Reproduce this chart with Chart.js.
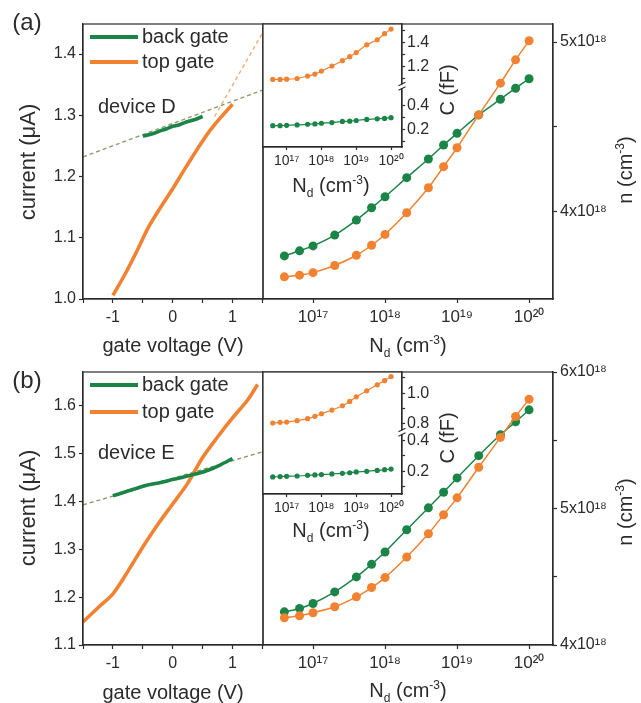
<!DOCTYPE html>
<html>
<head>
<meta charset="utf-8">
<script src="https://cdn.jsdelivr.net/npm/chart.js@4.4.1/dist/chart.umd.min.js"></script>
<style>
  body { margin: 0; background: #fff; }
  #fig { position: relative; width: 641px; height: 703px; background: #fff; overflow: hidden;
         font-family: "Liberation Sans", Arial, sans-serif; color: #2b2b2b; }
  #fig canvas { position: absolute; left: 0; }
  .lbl { position: absolute; white-space: nowrap; transform: translate(-50%, -50%); font-size: 20px; line-height: 1; z-index: 5; }
  .rot { transform: translate(-50%, -50%) rotate(-90deg); }
  .lbl sub, .lbl sup { font-size: 0.6em; line-height: 0; }
</style>
</head>
<body>
<div id="fig">
  <div class="lbl" style="left:27px;top:22px;font-size:24px">(a)</div>
  <div class="lbl" style="left:27px;top:380px;font-size:24px">(b)</div>

  <div class="lbl rot" style="left:28px;top:162px;font-size:22px">current (μA)</div>
  <div class="lbl rot" style="left:28px;top:508px;font-size:22px">current (μA)</div>
  <div class="lbl" style="left:173px;top:345px">gate voltage (V)</div>
  <div class="lbl" style="left:173px;top:692px">gate voltage (V)</div>

  <div class="lbl" style="left:408px;top:345px">N<sub>d</sub> (cm<sup>-3</sup>)</div>
  <div class="lbl" style="left:408px;top:690px">N<sub>d</sub> (cm<sup>-3</sup>)</div>
  <div class="lbl rot" style="left:625px;top:170px">n (cm<sup>-3</sup>)</div>
  <div class="lbl rot" style="left:625px;top:512px">n (cm<sup>-3</sup>)</div>

  <div class="lbl" style="left:331px;top:185px">N<sub>d</sub> (cm<sup>-3</sup>)</div>
  <div class="lbl" style="left:331px;top:530px">N<sub>d</sub> (cm<sup>-3</sup>)</div>
  <div class="lbl rot" style="left:447px;top:90px">C (fF)</div>
  <div class="lbl rot" style="left:447px;top:438px">C (fF)</div>
</div>
<script>
// ---- (a) device D : current vs gate voltage ----
const backVoltA = [-0.5, -0.4, -0.3, -0.2, -0.1, 0, 0.1, 0.2, 0.3, 0.4, 0.5];
const backCurrA = [1.266, 1.268, 1.271, 1.275, 1.278, 1.282, 1.284, 1.288, 1.291, 1.294, 1.298];
const topVoltA = [-1.0, -0.8, -0.6, -0.4, -0.2, 0, 0.2, 0.4, 0.6, 0.8, 1.0];
const topCurrA = [1.006, 1.040, 1.078, 1.118, 1.150, 1.180, 1.212, 1.243, 1.272, 1.296, 1.318];
const backFitVoltA = [-1.5, 1.5];
const backFitCurrA = [1.232, 1.341];
const topFitVoltA = [0.7, 1.5];
const topFitCurrA = [1.298, 1.434];

// ---- (b) device E ----
const backVoltB = [-1.0, -0.8, -0.6, -0.4, -0.2, 0, 0.2, 0.4, 0.6, 0.8, 1.0];
const backCurrB = [1.412, 1.420, 1.428, 1.435, 1.440, 1.446, 1.452, 1.458, 1.466, 1.477, 1.490];
const topVoltB = [-1.5, -1.25, -1.0, -0.75, -0.5, -0.25, 0, 0.25, 0.5, 0.75, 1.0, 1.25, 1.42];
const topCurrB = [1.148, 1.178, 1.207, 1.254, 1.305, 1.352, 1.395, 1.438, 1.492, 1.535, 1.575, 1.612, 1.645];
const backFitVoltB = [-1.5, 1.5];
const backFitCurrB = [1.393, 1.504];

// ---- n vs Nd (both devices use the same doping values) ----
const Nd = [4e16, 6.5e16, 1e17, 2e17, 4e17, 6.5e17, 1e18, 2e18, 4e18, 6.5e18, 1e19, 2e19, 4e19, 6.5e19, 1e20];
const nBackA = [3.735e18, 3.765e18, 3.794e18, 3.858e18, 3.947e18, 4.020e18, 4.085e18, 4.198e18, 4.308e18, 4.391e18, 4.460e18, 4.569e18, 4.662e18, 4.727e18, 4.783e18];
const nTopA = [3.611e18, 3.621e18, 3.636e18, 3.678e18, 3.739e18, 3.798e18, 3.862e18, 3.990e18, 4.138e18, 4.263e18, 4.375e18, 4.569e18, 4.757e18, 4.895e18, 5.008e18];
const nBackB = [4.243e18, 4.268e18, 4.304e18, 4.389e18, 4.499e18, 4.591e18, 4.681e18, 4.844e18, 5.005e18, 5.119e18, 5.224e18, 5.387e18, 5.540e18, 5.635e18, 5.723e18];
const nTopB = [4.200e18, 4.214e18, 4.236e18, 4.280e18, 4.353e18, 4.421e18, 4.494e18, 4.645e18, 4.815e18, 4.954e18, 5.078e18, 5.302e18, 5.521e18, 5.674e18, 5.800e18];

// ---- insets: C vs Nd ----
const cTopA = [1.092, 1.092, 1.094, 1.100, 1.120, 1.136, 1.161, 1.203, 1.247, 1.280, 1.314, 1.378, 1.420, 1.470, 1.508];
const cBackA = [0.234, 0.234, 0.237, 0.240, 0.246, 0.249, 0.254, 0.260, 0.269, 0.271, 0.277, 0.286, 0.291, 0.294, 0.300];
const cTopB = [0.806, 0.810, 0.812, 0.821, 0.834, 0.849, 0.866, 0.890, 0.918, 0.946, 0.976, 1.015, 1.054, 1.081, 1.107];
const cBackB = [0.164, 0.166, 0.168, 0.170, 0.174, 0.177, 0.179, 0.183, 0.187, 0.191, 0.196, 0.200, 0.206, 0.211, 0.215];

// ---- ticks ----
const voltTicks = [-1.5, -1, -0.5, 0, 0.5, 1, 1.5];
const voltLabels = ['', '-1', '', '0', '', '1', ''];
const currTicksA = [1.0, 1.1, 1.2, 1.3, 1.4];
const currLabelsA = ['1.0', '1.1', '1.2', '1.3', '1.4'];
const currTicksB = [1.1, 1.2, 1.3, 1.4, 1.5, 1.6];
const currLabelsB = ['1.1', '1.2', '1.3', '1.4', '1.5', '1.6'];
const ndTicks = [1e17, 1e18, 1e19, 1e20];
const ndLabels = ['10¹⁷', '10¹⁸', '10¹⁹', '10²⁰'];
const nTicksA = [4e18, 4.5e18, 5e18];
const nLabelsA = ['4x10¹⁸', '', '5x10¹⁸'];
const nTicksB = [4e18, 4.5e18, 5e18, 5.5e18, 6e18];
const nLabelsB = ['4x10¹⁸', '', '5x10¹⁸', '', '6x10¹⁸'];
const cHiTicksA = [1.1, 1.2, 1.3, 1.4, 1.5];
const cHiLabelsA = ['', '1.2', '', '1.4', ''];
const cLoTicksA = [0.1, 0.2, 0.3, 0.4];
const cLoLabelsA = ['', '0.2', '', '0.4'];
const cHiTicksB = [0.8, 0.9, 1.0, 1.1];
const cHiLabelsB = ['0.8', '', '1.0', ''];
const cLoTicksB = [0.1, 0.2, 0.3, 0.4];
const cLoLabelsB = ['', '0.2', '', '0.4'];

const FONT = '"Liberation Sans", Arial, sans-serif';
const INK = '#2b2b2b';
const GREEN = '#1b8548';
const ORANGE = '#f08232';
const GREEN_FIT = '#8d9c6c';
const ORANGE_FIT = '#f5ad76';

const pts = (xs, ys) => xs.map((x, i) => ({ x: x, y: ys[i] }));

function addCanvas(top, w, h) {
  const c = document.createElement('canvas');
  c.width = w;
  c.height = h;
  c.style.top = top + 'px';
  c.style.width = w + 'px';
  c.style.height = h + 'px';
  document.getElementById('fig').appendChild(c);
  return c;
}

// axis with fixed box size and hand picked ticks
function axis(o) {
  const s = {
    type: o.type || 'linear',
    position: o.position,
    min: o.min,
    max: o.max,
    afterBuildTicks: (sc) => { sc.ticks = o.ticks.map((v) => ({ value: v })); },
    afterFit: (sc) => { if (sc.isHorizontal()) sc.height = o.size; else sc.width = o.size; },
    border: { display: true, color: INK, width: 1.2 },
    grid: { drawOnChartArea: false, drawTicks: true, tickLength: o.tickLength || 4, tickColor: INK, tickWidth: 1.2 },
    ticks: {
      autoSkip: false, maxRotation: 0, minRotation: 0,
      padding: o.pad === undefined ? 3 : o.pad,
      color: INK,
      font: { family: FONT, size: o.fontSize || 16 },
      callback: (v, i) => o.labels[i],
    },
  };
  if (o.stack) {
    s.stack = o.stack;
    s.stackWeight = o.stackWeight;
  }
  return s;
}

// box around the plot area (optionally white filled for the insets)
const framePlugin = {
  id: 'frame',
  beforeDraw(chart, args, opts) {
    if (!opts.fill) return;
    const a = chart.chartArea;
    chart.ctx.save();
    chart.ctx.fillStyle = '#fff';
    chart.ctx.fillRect(a.left, a.top, a.width, a.height);
    chart.ctx.restore();
  },
  afterDraw(chart) {
    const a = chart.chartArea;
    const ctx = chart.ctx;
    ctx.save();
    ctx.strokeStyle = INK;
    ctx.lineWidth = 1.2;
    ctx.strokeRect(a.left, a.top, a.width, a.height);
    ctx.restore();
  },
};

// legend lines + device name inside the left panels
const panelTextPlugin = {
  id: 'panelText',
  afterDatasetsDraw(chart, args, opts) {
    if (!opts.device) return;
    const a = chart.chartArea;
    const ctx = chart.ctx;
    ctx.save();
    ctx.font = '20px ' + FONT;
    ctx.textBaseline = 'middle';
    const items = chart.data.datasets.filter((d) => d.inLegend);
    items.forEach((d, i) => {
      const y = a.top + opts.legendY[i];
      ctx.strokeStyle = d.borderColor;
      ctx.lineWidth = 4;
      ctx.beginPath();
      ctx.moveTo(a.left + 7, y);
      ctx.lineTo(a.left + 55, y);
      ctx.stroke();
      ctx.fillStyle = INK;
      ctx.fillText(d.label, a.left + 59, y);
    });
    ctx.fillStyle = INK;
    ctx.fillText(opts.device, a.left + 15, a.top + opts.deviceY);
    ctx.restore();
  },
};

// small break mark on the inset's right axis
const breakPlugin = {
  id: 'axisBreak',
  afterDraw(chart) {
    const hi = chart.scales.yHi;
    if (!hi) return;
    const x = chart.chartArea.right;
    const y = hi.bottom;
    const ctx = chart.ctx;
    ctx.save();
    ctx.fillStyle = '#fff';
    ctx.fillRect(x - 3, y - 2, 6, 4);
    ctx.strokeStyle = INK;
    ctx.lineWidth = 1.1;
    ctx.beginPath();
    ctx.moveTo(x - 3.5, y - 0.5); ctx.lineTo(x + 3.5, y - 4);
    ctx.moveTo(x - 3.5, y + 4); ctx.lineTo(x + 3.5, y + 0.5);
    ctx.stroke();
    ctx.restore();
  },
};

const baseOptions = {
  responsive: false,
  animation: false,
  devicePixelRatio: 1,
  events: [],
};

function sweep(label, data, color) {
  return { label: label, data: data, borderColor: color, borderWidth: 3.6, pointRadius: 0,
           tension: 0.3, fill: false, inLegend: true };
}
function fitLine(data, color) {
  return { label: 'fit', data: data, borderColor: color, borderWidth: 1.4, borderDash: [4, 3],
           pointRadius: 0, fill: false };
}
function marked(label, data, color, r, w) {
  return { label: label, data: data, borderColor: color, backgroundColor: color, borderWidth: w,
           pointRadius: r, pointBorderWidth: 0, pointBackgroundColor: color, fill: false, tension: 0.25 };
}

function gatePanel(top, h, padBottom, datasets, yMin, yMax, yTicks, yLabels, device, legendY, deviceY) {
  return new Chart(addCanvas(top, 270, h), {
    type: 'line',
    data: { datasets: datasets },
    options: Object.assign({}, baseOptions, {
      layout: { padding: { left: 0, top: 24, right: 7, bottom: padBottom } },
      scales: {
        x: axis({ position: 'bottom', min: -1.5, max: 1.51, ticks: voltTicks, labels: voltLabels, size: 30, pad: 5 }),
        y: axis({ position: 'left', min: yMin, max: yMax, ticks: yTicks, labels: yLabels, size: 83 }),
      },
      plugins: { legend: { display: false }, tooltip: { enabled: false },
                 panelText: { device: device, legendY: legendY, deviceY: deviceY } },
    }),
    plugins: [framePlugin, panelTextPlugin],
  });
}

function densityPanel(top, h, padBottom, back, front, yMin, yMax, yTicks, yLabels) {
  return new Chart(addCanvas(top, 641, h), {
    type: 'line',
    data: { datasets: [
      marked('top gate', pts(Nd, front), ORANGE, 4.5, 1.5),
      marked('back gate', pts(Nd, back), GREEN, 4.5, 1.5),
    ] },
    options: Object.assign({}, baseOptions, {
      layout: { padding: { left: 263, top: 24, right: 0, bottom: padBottom } },
      scales: {
        x: axis({ type: 'logarithmic', position: 'bottom', min: 2.02e16, max: 2.15e20, ticks: ndTicks, labels: ndLabels, size: 30, pad: 4, fontSize: 17 }),
        y: axis({ position: 'right', min: yMin, max: yMax, ticks: yTicks, labels: yLabels, size: 88 }),
      },
      plugins: { legend: { display: false }, tooltip: { enabled: false } },
    }),
    plugins: [framePlugin],
  });
}

function insetPanel(top, padBottom, back, front, hi, lo) {
  return new Chart(addCanvas(top, 641, 200), {
    type: 'line',
    data: { datasets: [
      Object.assign(marked('top gate', pts(Nd, front), ORANGE, 2.6, 1.2), { yAxisID: 'yHi' }),
      Object.assign(marked('back gate', pts(Nd, back), GREEN, 2.6, 1.2), { yAxisID: 'yLo' }),
    ] },
    options: Object.assign({}, baseOptions, {
      layout: { padding: { left: 263, top: 24, right: 641 - 402 - 30, bottom: padBottom } },
      scales: {
        x: axis({ type: 'logarithmic', position: 'bottom', min: 2.1e16, max: 2.06e20, ticks: ndTicks, labels: ndLabels,
                  size: 20, pad: 3, tickLength: 3, fontSize: 14 }),
        yHi: axis(Object.assign({ position: 'right', size: 30, tickLength: 3, pad: 2, stack: 'c',
                                  stackWeight: hi.max - hi.min }, hi)),
        yLo: axis(Object.assign({ position: 'right', size: 30, tickLength: 3, pad: 2, stack: 'c',
                                  stackWeight: lo.max - lo.min }, lo)),
      },
      plugins: { legend: { display: false }, tooltip: { enabled: false }, frame: { fill: true } },
    }),
    plugins: [framePlugin, breakPlugin],
  });
}

// row (a)
gatePanel(0, 360, 31, [
  sweep('back gate', pts(backVoltA, backCurrA), GREEN),
  sweep('top gate', pts(topVoltA, topCurrA), ORANGE),
  fitLine(pts(backFitVoltA, backFitCurrA), GREEN_FIT),
  fitLine(pts(topFitVoltA, topFitCurrA), ORANGE_FIT),
], 1.0, 1.449, currTicksA, currLabelsA, 'device D', [13, 38], 83);
densityPanel(0, 360, 31, nBackA, nTopA, 3.48e18, 5.107e18, nTicksA, nLabelsA);
insetPanel(0, 33, cBackA, cTopA,
  { min: 1.036, max: 1.55, ticks: cHiTicksA, labels: cHiLabelsA },
  { min: 0.058, max: 0.56, ticks: cLoTicksA, labels: cLoLabelsA });

// row (b)
gatePanel(348, 355, 28, [
  sweep('back gate', pts(backVoltB, backCurrB), GREEN),
  sweep('top gate', pts(topVoltB, topCurrB), ORANGE),
  fitLine(pts(backFitVoltB, backFitCurrB), GREEN_FIT),
], 1.1, 1.671, currTicksB, currLabelsB, 'device E', [13, 40], 81);
densityPanel(348, 355, 28, nBackB, nTopB, 4e18, 6e18, nTicksB, nLabelsB);
insetPanel(348, 34, cBackB, cTopB,
  { min: 0.746, max: 1.137, ticks: cHiTicksB, labels: cHiLabelsB },
  { min: 0.053, max: 0.454, ticks: cLoTicksB, labels: cLoLabelsB });
</script>
</body>
</html>
